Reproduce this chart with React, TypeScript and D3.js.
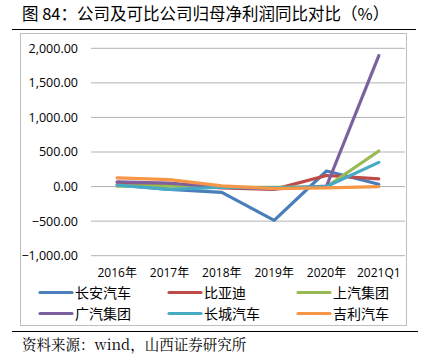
import React from "react";
import * as d3 from "d3";

const categories = ["2016年", "2017年", "2018年", "2019年", "2020年", "2021Q1"];
const seriesNames = ["长安汽车", "比亚迪", "上汽集团", "广汽集团", "长城汽车", "吉利汽车"];
const changan = [25, -40, -85, -490, 225, 33];
const byd = [60, 20, -20, -40, 160, 110];
const saic = [5, 10, -10, -10, -5, 515];
const gac = [70, 50, -10, -35, 5, 1895];
const gwm = [20, -40, -10, -20, 0, 350];
const geely = [125, 100, 10, -30, -20, 0];
const seriesValues = [changan, byd, saic, gac, gwm, geely];
const colors = ["#4A7EBB", "#BE4B48", "#98B954", "#7D60A0", "#46AAC5", "#F79646"];
const yTicks = [-1000, -500, 0, 500, 1000, 1500, 2000];

export default function App() {
  const W = 427, H = 356;
  const x = d3.scaleBand().domain(categories).range([91, 405]);
  const y = d3.scaleLinear().domain([-1000, 2000]).range([255.7, 48.3]);
  const fmt = d3.format(",.2f");
  const line = d3
    .line<number>()
    .x((_, i) => (x(categories[i]) as number) + x.bandwidth() / 2)
    .y((d) => y(d));
  const legendX = [40, 169, 298];
  const legendY = [292.5, 313.5];
  return (
    <svg width={W} height={H} style={{ position: "absolute", left: 0, top: 0 }}>
      <rect width={W} height={H} fill="#fff" />
      <text x={22} y={20} fontSize={16.5} fontFamily="'Noto Sans CJK SC', sans-serif" fill="#000">
        图 84：公司及可比公司归母净利润同比对比（%）
      </text>
      <line x1={12} x2={416} y1={29.5} y2={29.5} stroke="#000" strokeWidth={1} />
      <rect x={20.5} y={33.5} width={386} height={292} fill="none" stroke="#BFBFBF" strokeWidth={1} />
      {yTicks.map((t) => (
        <g key={t}>
          <line x1={91} x2={405} y1={y(t)} y2={y(t)} stroke="#B3B3B3" strokeWidth={1} />
          <text
            x={78}
            y={y(t)}
            dy="0.35em"
            textAnchor="end"
            fontSize={12.5}
            fontFamily="'Open Sans', sans-serif"
            fill="#000"
          >
            {fmt(t)}
          </text>
        </g>
      ))}
      {categories.map((c) => (
        <text
          key={c}
          x={(x(c) as number) + x.bandwidth() / 2}
          y={277}
          textAnchor="middle"
          fontSize={12}
          fontFamily="'Open Sans', 'Noto Sans CJK SC', sans-serif"
          fill="#000"
        >
          {c}
        </text>
      ))}
      {seriesValues.map((vals, i) => (
        <path
          key={seriesNames[i]}
          d={line(vals) || ""}
          fill="none"
          stroke={colors[i]}
          strokeWidth={3.2}
          strokeLinejoin="round"
          strokeLinecap="round"
        />
      ))}
      {seriesNames.map((n, i) => {
        const lx = legendX[i % 3];
        const ly = legendY[Math.floor(i / 3)];
        return (
          <g key={n}>
            <line x1={lx} x2={lx + 32} y1={ly} y2={ly} stroke={colors[i]} strokeWidth={3.2} strokeLinecap="round" />
            <text
              x={lx + 35}
              y={ly}
              dy="0.36em"
              fontSize={14}
              fontFamily="'Noto Sans CJK SC', sans-serif"
              fill="#000"
            >
              {n}
            </text>
          </g>
        );
      })}
      <line x1={12} x2={418} y1={331.5} y2={331.5} stroke="#000" strokeWidth={1} />
      <text x={22} y={350} fontSize={14.5} fontFamily="'Noto Serif CJK SC', 'Noto Sans CJK SC', serif" fill="#000">
        资料来源：wind，山西证券研究所
      </text>
    </svg>
  );
}
